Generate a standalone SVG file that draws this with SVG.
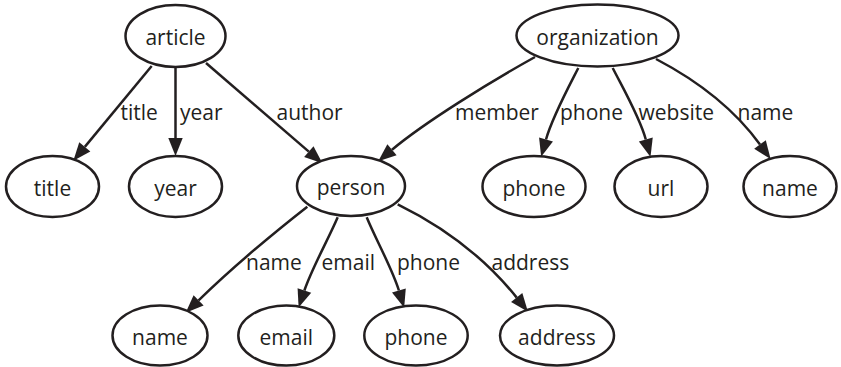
<svg xmlns="http://www.w3.org/2000/svg" width="841" height="367" viewBox="0 0 841 367">
  <style>
    .node ellipse { fill: #ffffff; stroke: #231f20; stroke-width: 2.5; }
    .node text { font-family: "Open Sans", "Liberation Sans", sans-serif; font-size: 21px; fill: #231f20; text-anchor: middle; }
    .edge path { fill: none; stroke: #231f20; stroke-width: 2.5; }
    .edge text { font-family: "Open Sans", "Liberation Sans", sans-serif; font-size: 21px; fill: #231f20; }
  </style>
  <defs>
    <marker id="arrow" markerUnits="userSpaceOnUse" markerWidth="20" markerHeight="16" refX="0" refY="7" orient="auto" viewBox="0 0 20 14" overflow="visible">
      <path d="M0,-0.2 L18,7 L0,14.2 Z" fill="#231f20" stroke="none"/>
    </marker>
  </defs>
  <rect width="841" height="367" fill="#ffffff"/>

  <g id="edges" class="edge">
    <path d="M151.7,66 L84.8,146.9" marker-end="url(#arrow)"/>
    <text x="120.5" y="120">title</text>
    <path d="M175.5,67 L175.5,138" marker-end="url(#arrow)"/>
    <text x="180" y="120">year</text>
    <path d="M206,63 L308.8,151.6" marker-end="url(#arrow)"/>
    <text x="276.5" y="120">author</text>

    <path d="M535,57 C490,82 425,122 392,149.7" marker-end="url(#arrow)"/>
    <text x="455" y="120">member</text>
    <path d="M578.3,68 C566,92 552,118 546,139.5" marker-end="url(#arrow)"/>
    <text x="560" y="120">phone</text>
    <path d="M612.7,68 C625,92 640,118 645.8,139.5" marker-end="url(#arrow)"/>
    <text x="638.5" y="120">website</text>
    <path d="M656,59 C700,82 735,110 760,144.5" marker-end="url(#arrow)"/>
    <text x="737.5" y="120">name</text>

    <path d="M307.3,206.7 C275,232 235,265 198.6,300.3" marker-end="url(#arrow)"/>
    <text x="246" y="270">name</text>
    <path d="M337.7,217.3 C328,240 312,268 304.4,290.5" marker-end="url(#arrow)"/>
    <text x="321.5" y="270">email</text>
    <path d="M366.7,217.3 C376,240 392,268 398.9,290.5" marker-end="url(#arrow)"/>
    <text x="397" y="270">phone</text>
    <path d="M397.7,204.3 C446,228 485,258 516.7,297.6" marker-end="url(#arrow)"/>
    <text x="491.5" y="270">address</text>
  </g>

  <g id="article" class="node">
    <ellipse cx="175.5" cy="36" rx="50" ry="31"/>
    <text x="175.5" y="45">article</text>
  </g>
  <g id="organization" class="node">
    <ellipse cx="597.5" cy="35.5" rx="81" ry="31"/>
    <text x="597.5" y="44.5">organization</text>
  </g>
  <g id="title" class="node">
    <ellipse cx="52.5" cy="186.5" rx="46.5" ry="30.5"/>
    <text x="52.5" y="195.5">title</text>
  </g>
  <g id="year" class="node">
    <ellipse cx="175.5" cy="186.5" rx="46.5" ry="30.5"/>
    <text x="175.5" y="195.5">year</text>
  </g>
  <g id="person" class="node">
    <ellipse cx="351" cy="186" rx="54" ry="30"/>
    <text x="351" y="195">person</text>
  </g>
  <g id="org-phone" class="node">
    <ellipse cx="534" cy="186.5" rx="51.5" ry="30.5"/>
    <text x="534" y="195.5">phone</text>
  </g>
  <g id="url" class="node">
    <ellipse cx="661" cy="186.5" rx="46.5" ry="30.5"/>
    <text x="661" y="195.5">url</text>
  </g>
  <g id="org-name" class="node">
    <ellipse cx="790" cy="186.5" rx="46.5" ry="30.5"/>
    <text x="790" y="195.5">name</text>
  </g>
  <g id="person-name" class="node">
    <ellipse cx="160" cy="335.5" rx="47.5" ry="30"/>
    <text x="160" y="344.5">name</text>
  </g>
  <g id="email" class="node">
    <ellipse cx="286.3" cy="335.5" rx="48" ry="30"/>
    <text x="286.3" y="344.5">email</text>
  </g>
  <g id="person-phone" class="node">
    <ellipse cx="416" cy="335.5" rx="51.7" ry="30"/>
    <text x="416" y="344.5">phone</text>
  </g>
  <g id="address" class="node">
    <ellipse cx="557" cy="335.5" rx="57" ry="30"/>
    <text x="557" y="344.5">address</text>
  </g>
</svg>
